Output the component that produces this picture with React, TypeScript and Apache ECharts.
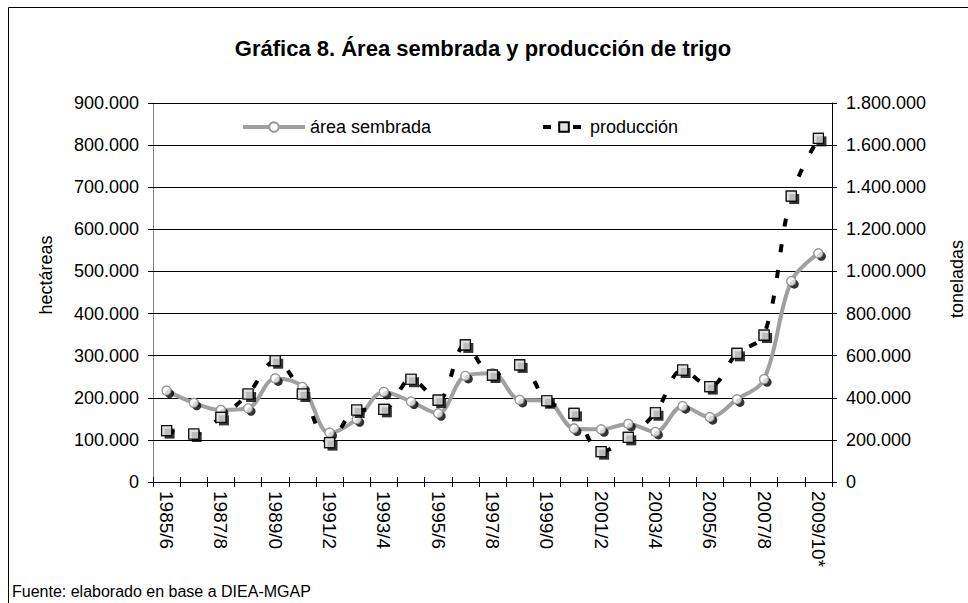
import React, { useEffect, useRef } from "react";
import * as echarts from "echarts";

const categories = [
  "1985/6", "1986/7", "1987/8", "1988/9", "1989/0", "1990/1", "1991/2", "1992/3",
  "1993/4", "1994/5", "1995/6", "1996/7", "1997/8", "1998/9", "1999/0", "2000/1",
  "2001/2", "2002/3", "2003/4", "2004/5", "2005/6", "2006/7", "2007/8", "2008/9", "2009/10*",
];

const areaSembrada = [
  217000, 188000, 171000, 175000, 246000, 226000, 117000, 149000, 214000, 191000,
  163000, 252000, 258000, 195000, 193000, 127000, 125000, 138000, 119000, 180000,
  154000, 196000, 244000, 477000, 543000,
];

const produccion = [
  244000, 228000, 307000, 418000, 576000, 418000, 187000, 342000, 345000, 488000,
  389000, 651000, 508000, 556000, 386000, 326000, 144000, 212000, 329000, 532000,
  453000, 611000, 698000, 1358000, 1632000,
];

const FONT = "Liberation Sans, Arial, sans-serif";

const fmt = (v: number) => String(v).replace(/\B(?=(\d{3})+(?!\d))/g, ".");

export default function App() {
  const ref = useRef<HTMLDivElement>(null);
  useEffect(() => {
    document.body.style.margin = "0";
    if (!ref.current) return;
    const chart = echarts.init(ref.current, undefined, { renderer: "svg" });
    const option: any = {
      animation: false,
      backgroundColor: "#ffffff",
      textStyle: { fontFamily: FONT },
      title: {
        text: "Gráfica 8. Área sembrada y producción de trigo",
        left: 478,
        textAlign: "center",
        top: 32,
        textStyle: { fontFamily: FONT, fontSize: 22, fontWeight: "bold", color: "#000" },
      },
      legend: [
        {
          data: [{ name: "área sembrada", lineStyle: { width: 4, color: "#a0a0a0" } }],
          left: 241,
          top: 118,
          padding: 0,
          itemWidth: 62,
          itemHeight: 12,
          textStyle: { fontFamily: FONT, fontSize: 18, color: "#000" },
        },
        {
          data: [{ name: "producción", lineStyle: { width: 4, color: "#000", type: [8, 22] } }],
          left: 541,
          top: 118,
          padding: 0,
          itemWidth: 42,
          itemHeight: 12,
          textStyle: { fontFamily: FONT, fontSize: 18, color: "#000" },
        },
      ],
      graphic: [
        {
          type: "rect",
          shape: { x: 8.5, y: 7.5, width: 1000, height: 700 },
          style: { fill: "none", stroke: "#000", lineWidth: 1 },
          silent: true,
        },
        {
          type: "text",
          x: 12,
          y: 591,
          style: {
            text: "Fuente: elaborado en base a DIEA-MGAP",
            fontFamily: FONT,
            fontSize: 16,
            fill: "#000",
            verticalAlign: "middle",
          },
        },
        {
          type: "text",
          x: 46,
          y: 275,
          rotation: Math.PI / 2,
          style: {
            text: "hectáreas",
            fontFamily: FONT,
            fontSize: 18,
            fill: "#000",
            align: "center",
            verticalAlign: "middle",
          },
        },
        {
          type: "text",
          x: 957,
          y: 279,
          rotation: Math.PI / 2,
          style: {
            text: "toneladas",
            fontFamily: FONT,
            fontSize: 18,
            fill: "#000",
            align: "center",
            verticalAlign: "middle",
          },
        },
      ],
      grid: { left: 153, right: 136, top: 103, bottom: 121, containLabel: false },
      xAxis: [
        {
          type: "category",
          data: categories,
          boundaryGap: true,
          axisLine: { lineStyle: { color: "#000", width: 1 } },
          axisTick: { show: true, interval: 0, length: 5, lineStyle: { color: "#000" } },
          axisLabel: {
            interval: 1,
            rotate: -90,
            fontFamily: FONT,
            fontSize: 19,
            color: "#000",
            margin: 9,
          },
          splitLine: { show: false },
        },
        {
          type: "category",
          data: categories,
          position: "bottom",
          boundaryGap: true,
          axisLine: { show: false },
          axisTick: { show: true, inside: true, interval: 0, length: 5, lineStyle: { color: "#000" } },
          axisLabel: { show: false },
          splitLine: { show: false },
        },
      ],
      yAxis: [
        {
          type: "value",
          min: 0,
          max: 900000,
          interval: 100000,
          position: "left",
          axisLine: { show: true, lineStyle: { color: "#808080", width: 1 } },
          axisTick: { show: true, length: 5, lineStyle: { color: "#000" } },
          axisLabel: { formatter: fmt, fontFamily: FONT, fontSize: 18, color: "#000", margin: 14 },
          splitLine: { show: true, lineStyle: { color: "#000", width: 1 } },
        },
        {
          type: "value",
          min: 0,
          max: 1800000,
          interval: 200000,
          position: "right",
          axisLine: { show: true, lineStyle: { color: "#000", width: 1 } },
          axisTick: { show: true, length: 5, lineStyle: { color: "#000" } },
          axisLabel: { formatter: fmt, fontFamily: FONT, fontSize: 18, color: "#000", margin: 14 },
          splitLine: { show: false },
        },
        {
          type: "value",
          min: 0,
          max: 900000,
          interval: 100000,
          position: "left",
          axisLine: { show: false },
          axisTick: { show: true, inside: true, length: 5, lineStyle: { color: "#000" } },
          axisLabel: { show: false },
          splitLine: { show: false },
        },
        {
          type: "value",
          min: 0,
          max: 1800000,
          interval: 200000,
          position: "right",
          axisLine: { show: false },
          axisTick: { show: true, inside: true, length: 5, lineStyle: { color: "#000" } },
          axisLabel: { show: false },
          splitLine: { show: false },
        },
      ],
      series: [
        {
          name: "área sembrada",
          type: "line",
          data: areaSembrada,
          yAxisIndex: 0,
          smooth: 0.35,
          symbol: "circle",
          symbolSize: 9,
          lineStyle: { color: "#a0a0a0", width: 4 },
          itemStyle: { color: "#ffffff", borderColor: "#999999", borderWidth: 1.2 },
          z: 2,
        },
        {
          name: "area-shadow",
          type: "scatter",
          data: areaSembrada,
          yAxisIndex: 0,
          symbol: "circle",
          symbolSize: 9,
          symbolOffset: [3, 3],
          itemStyle: { color: "#000" },
          silent: true,
          z: 3,
        },
        {
          name: "area-markers",
          type: "scatter",
          data: areaSembrada,
          yAxisIndex: 0,
          symbol: "circle",
          symbolSize: 9,
          itemStyle: { color: "#ffffff", borderColor: "#8c8c8c", borderWidth: 1.2 },
          silent: true,
          z: 4,
        },
        {
          name: "producción",
          type: "line",
          data: produccion,
          yAxisIndex: 1,
          smooth: 0.35,
          symbol: "rect",
          symbolSize: 10,
          lineStyle: { color: "#000", width: 4, type: [8, 18] },
          itemStyle: { color: "#e0e0e0", borderColor: "#000", borderWidth: 1.2 },
          z: 5,
        },
        {
          name: "prod-shadow",
          type: "scatter",
          data: produccion,
          yAxisIndex: 1,
          symbol: "rect",
          symbolSize: 10,
          symbolOffset: [3, 3],
          itemStyle: { color: "#000" },
          silent: true,
          z: 6,
        },
        {
          name: "prod-markers",
          type: "scatter",
          data: produccion,
          yAxisIndex: 1,
          symbol: "rect",
          symbolSize: 10,
          itemStyle: { color: "#e0e0e0", borderColor: "#000", borderWidth: 1.2 },
          silent: true,
          z: 7,
        },
      ],
    };
    chart.setOption(option);
    return () => chart.dispose();
  }, []);
  return <div ref={ref} style={{ width: 968, height: 603 }} />;
}
